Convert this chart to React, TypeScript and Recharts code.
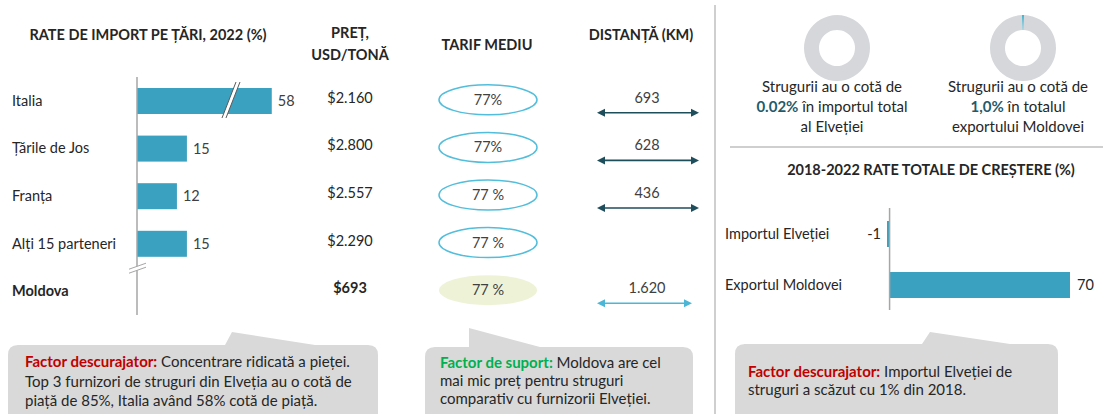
import React from 'react';
import { BarChart, Bar, XAxis, YAxis, ReferenceLine, PieChart, Pie, Cell, LabelList } from 'recharts';

const FONT = 'Lato, "Open Sans", sans-serif';
const TEXT = '#262626';
const BAR = '#3ba1c0';
const AXIS = '#a6a6a6';

// left block: import shares by partner, 2022
const countries = ['Italia', 'Țările de Jos', 'Franța', 'Alți 15 parteneri', 'Moldova'];
const importShare = [58, 15, 12, 15, null];
const pricePerTon = [2160, 2800, 2557, 2290, 693];
const tariffLabels = ['77%', '77%', '77 %', '77 %', '77 %'];
const distanceKm = [693, 628, 436, null, 1620];
const BREAK_AT = 40.5; // Italia bar is drawn broken past this value

// right block: growth 2018-2022
const growthLabels = ['Importul Elveției', 'Exportul Moldovei'];
const growthValues = [-1, 70];

// donut shares (%)
const swissImportShare = 0.02;
const moldovaExportShare = 1.0;

const fmt = (n: number) => String(n).replace(/\B(?=(\d{3})+(?!\d))/g, '.');

const importRows = countries.map((country, i) => ({ country, share: importShare[i] }));
const growthRows = growthLabels.map((label, i) => ({ label, value: growthValues[i] }));

function Arrow({ x1, x2, y, color }: any) {
  return (
    <g>
      <line x1={x1 + 5} x2={x2 - 5} y1={y} y2={y} stroke={color} strokeWidth={1.6} />
      <polygon points={`${x1},${y} ${x1 + 8},${y - 4} ${x1 + 8},${y + 4}`} fill={color} />
      <polygon points={`${x2},${y} ${x2 - 8},${y - 4} ${x2 - 8},${y + 4}`} fill={color} />
    </g>
  );
}

function RowTick(props: any) {
  const { y, payload } = props;
  const i = countries.indexOf(payload.value);
  const last = i === countries.length - 1;
  const dist = distanceKm[i];
  const yb = y - 24;
  return (
    <g fontFamily={FONT} fontSize={14.5} fill={TEXT}>
      <text x={12} y={y + 5} fontWeight={last ? 700 : 400}>{payload.value}</text>
      <text x={350} y={y + 2} textAnchor="middle" fontWeight={last ? 700 : 400}>{'$' + fmt(pricePerTon[i])}</text>
      <ellipse cx={488} cy={y - 1} rx={49} ry={15}
        fill={last ? '#eef3d8' : 'none'} stroke={last ? 'none' : '#52bedb'} strokeWidth={1.5} />
      <text x={488} y={y + 4} textAnchor="middle" fill="#404040">{tariffLabels[i]}</text>
      {dist != null && (
        <g>
          <text x={647} y={y + 2} textAnchor="middle" fill="#404040">{fmt(dist)}</text>
          <Arrow x1={597} x2={last ? 692 : 699} y={y + 12} color={last ? '#4bb6d6' : '#1e4d5c'} />
        </g>
      )}
      {last && (
        <g>
          <polygon points={`129,${yb + 2} 146,${yb - 4} 146,${yb} 129,${yb + 6}`} fill="#fff" />
          <line x1={129} y1={yb + 2} x2={146} y2={yb - 4} stroke={AXIS} strokeWidth={1} />
          <line x1={129} y1={yb + 6} x2={146} y2={yb} stroke={AXIS} strokeWidth={1} />
        </g>
      )}
    </g>
  );
}

function ImportBar(props: any) {
  const { x, y, width, height, payload } = props;
  const v = payload.share;
  if (v == null) return null;
  const broken = v > BREAK_AT;
  const w = broken ? (width * BREAK_AT) / v : width;
  const cx = x + w * 0.69;
  const top = y - 6;
  const bot = y + height + 4;
  return (
    <g>
      <rect x={x} y={y} width={w} height={height} fill={BAR} />
      {broken && (
        <g>
          <polygon points={`${cx + 6},${top} ${cx + 10},${top} ${cx - 4},${bot} ${cx - 8},${bot}`} fill="#fff" />
          <line x1={cx + 6} y1={top} x2={cx - 8} y2={bot} stroke="#595959" strokeWidth={1} />
          <line x1={cx + 10} y1={top} x2={cx - 4} y2={bot} stroke="#595959" strokeWidth={1} />
        </g>
      )}
      <text x={x + w + 6} y={y + height / 2 + 5} fontFamily={FONT} fontSize={14.5} fill="#404040">{v}</text>
    </g>
  );
}

function GrowthTick(props: any) {
  const { y, payload } = props;
  return (
    <text x={10} y={y + 5} fontFamily={FONT} fontSize={14.5} fill={TEXT}>{payload.value}</text>
  );
}

function GrowthLabel(props: any) {
  const { x, y, width, height, value } = props;
  const left = Math.min(x, x + width);
  const right = Math.max(x, x + width);
  const neg = value < 0;
  return (
    <text x={neg ? left - 6 : right + 7} y={y + height / 2 + 5} textAnchor={neg ? 'end' : 'start'}
      fontFamily={FONT} fontSize={14.5} fill={TEXT}>{value}</text>
  );
}

function calloutPath(x: number, y: number, w: number, h: number, p1: number, tx: number, ty: number, p2: number) {
  const r = 10;
  return `M${x + r},${y} L${p1},${y} L${tx},${ty} L${p2},${y} L${x + w - r},${y} Q${x + w},${y} ${x + w},${y + r} L${x + w},${y + h} L${x},${y + h} L${x},${y + r} Q${x},${y} ${x + r},${y} Z`;
}

function donutData(share: number) {
  return [{ name: 'struguri', value: share }, { name: 'rest', value: 100 - share }];
}

export default function App() {
  const s1 = 90 + swissImportShare * 1.8;
  const s2 = 90 + moldovaExportShare * 1.8;
  return (
    <div style={{ position: 'absolute', left: 0, top: 0, width: 1103, height: 414, background: '#fff', overflow: 'hidden', fontFamily: FONT }}>
      <svg width={1103} height={414} style={{ position: 'absolute', left: 0, top: 0 }} fontFamily={FONT}>
        <g fontWeight={700} fontSize={14.5} fill={TEXT} textAnchor="middle">
          <text x={148} y={40}>RATE DE IMPORT PE ȚĂRI, 2022 (%)</text>
          <text x={350} y={38}>PREȚ,</text>
          <text x={350} y={60}>USD/TONĂ</text>
          <text x={487} y={50}>TARIF MEDIU</text>
          <text x={641} y={40}>DISTANȚĂ (KM)</text>
          <text x={931} y={175}>2018-2022 RATE TOTALE DE CREȘTERE (%)</text>
        </g>
        <line x1={715} x2={715} y1={5} y2={414} stroke="#bfbfbf" strokeWidth={1.5} />
        <line x1={730} x2={1103} y1={147} y2={147} stroke="#bfbfbf" strokeWidth={1.5} />

        <g fontSize={15} fill={TEXT} textAnchor="middle">
          <text x={832} y={92}>Strugurii au o cotă de</text>
          <text x={832} y={112}><tspan fontWeight={700} fill="#1f5c6b">0.02%</tspan> în importul total</text>
          <text x={832} y={132}>al Elveției</text>
          <text x={1018} y={92}>Strugurii au o cotă de</text>
          <text x={1018} y={112}><tspan fontWeight={700} fill="#1f5c6b">1,0%</tspan> în totalul</text>
          <text x={1018} y={132}>exportului Moldovei</text>
        </g>

        <path d={calloutPath(8, 345, 370, 80, 225, 232, 332, 315)} fill="#d9d9d9" />
        <path d={calloutPath(425, 347, 268, 80, 469, 469, 328, 540)} fill="#d9d9d9" />
        <path d={calloutPath(735, 344, 323, 80, 922, 930, 332, 1010)} fill="#d9d9d9" />
        <g fontSize={15} fill={TEXT}>
          <text x={25} y={367}><tspan fontWeight={700} fill="#c00000">Factor descurajator:</tspan> Concentrare ridicată a pieței.</text>
          <text x={25} y={387}>Top 3 furnizori de struguri din Elveția au o cotă de</text>
          <text x={25} y={406}>piață de 85%, Italia având 58% cotă de piață.</text>
          <text x={440} y={368}><tspan fontWeight={700} fill="#00b050">Factor de suport:</tspan> Moldova are cel</text>
          <text x={440} y={386}>mai mic preț pentru struguri</text>
          <text x={440} y={404}>comparativ cu furnizorii Elveției.</text>
          <text x={748} y={377}><tspan fontWeight={700} fill="#c00000">Factor descurajator:</tspan> Importul Elveției de</text>
          <text x={748} y={395}>struguri a scăzut cu 1% din 2018.</text>
        </g>
      </svg>

      <div style={{ position: 'absolute', left: 0, top: 0 }}>
        <BarChart width={715} height={330} data={importRows} layout="vertical"
          margin={{ top: 77, right: 385, bottom: 15, left: 0 }}>
          <XAxis type="number" hide domain={[0, 58]} />
          <YAxis type="category" dataKey="country" width={137} interval={0} tickLine={false}
            axisLine={{ stroke: AXIS, strokeWidth: 1.5 }} tick={<RowTick />} />
          <Bar dataKey="share" barSize={26} shape={<ImportBar />} isAnimationActive={false} />
        </BarChart>
      </div>

      <div style={{ position: 'absolute', left: 715, top: 0 }}>
        <PieChart width={388} height={90}>
          <Pie data={donutData(swissImportShare)} dataKey="value" cx={117} cy={43} innerRadius={18} outerRadius={33}
            startAngle={s1} endAngle={s1 - 360} stroke="none" isAnimationActive={false}>
            <Cell fill="#4bb6d0" />
            <Cell fill="#d5d7da" />
          </Pie>
          <Pie data={donutData(moldovaExportShare)} dataKey="value" cx={303} cy={43} innerRadius={18} outerRadius={33}
            startAngle={s2} endAngle={s2 - 360} stroke="none" isAnimationActive={false}>
            <Cell fill="#4bb6d0" />
            <Cell fill="#d5d7da" />
          </Pie>
        </PieChart>
      </div>

      <div style={{ position: 'absolute', left: 715, top: 190 }}>
        <BarChart width={388} height={140} data={growthRows} layout="vertical"
          margin={{ top: 18, right: 33, bottom: 20, left: 0 }}>
          <XAxis type="number" hide domain={[-1, 70]} />
          <YAxis type="category" dataKey="label" width={172} interval={0} tickLine={false} axisLine={false} tick={<GrowthTick />} />
          <ReferenceLine x={0} stroke={AXIS} strokeWidth={1.5} />
          <Bar dataKey="value" barSize={26} fill={BAR} isAnimationActive={false}>
            <LabelList dataKey="value" content={GrowthLabel} />
          </Bar>
        </BarChart>
      </div>
    </div>
  );
}
